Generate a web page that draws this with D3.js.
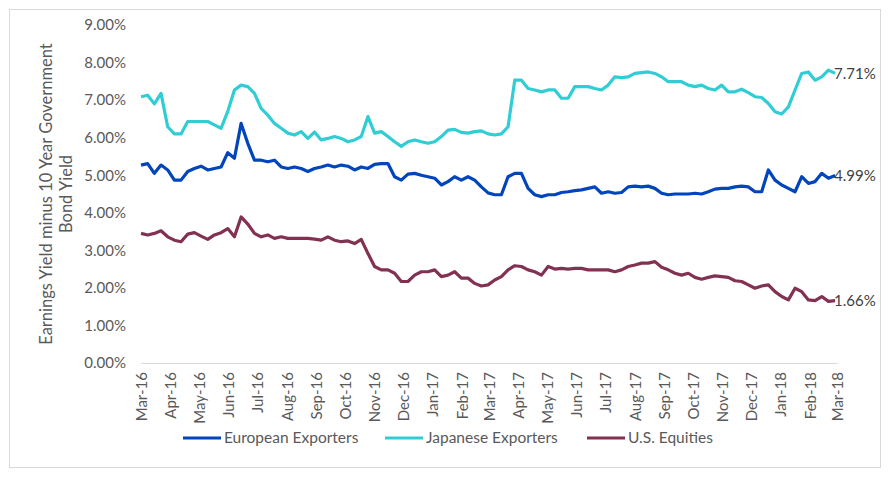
<!DOCTYPE html>
<html>
<head>
<meta charset="utf-8">
<script src="https://cdn.jsdelivr.net/npm/d3@7"></script>
<style>
  body { margin: 0; background: #fff; }
  svg { display: block; font-family: Lato, 'Open Sans', sans-serif; }
</style>
</head>
<body>
<div id="app"></div>
<script>
;(() => {

    // series names / colours
    const series_names = ['European Exporters', 'Japanese Exporters', 'U.S. Equities']
    const series_colors = ['#0045BB', '#31CDD5', '#833152']

    // weekly readings (%), first week starts 1 Mar 2016
    const european = [
        5.27, 5.31, 5.05, 5.27, 5.14, 4.87, 4.87, 5.1, 5.18, 5.24, 5.14, 5.18, 5.22, 5.6, 5.45, 6.38, 5.85, 5.4, 5.4, 5.36, 5.4, 5.22, 5.18, 5.22, 5.18, 5.1, 5.18,
        5.22, 5.27, 5.22, 5.27, 5.24, 5.14, 5.22, 5.18, 5.29, 5.31, 5.31, 4.96, 4.87, 5.03, 5.05, 5.0, 4.96, 4.92, 4.74, 4.83, 4.96, 4.87, 4.96, 4.87, 4.69, 4.53,
        4.48, 4.48, 4.96, 5.05, 5.05, 4.65, 4.48, 4.43, 4.48, 4.48, 4.54, 4.56, 4.59, 4.61, 4.65, 4.69, 4.52, 4.56, 4.52, 4.54, 4.69, 4.71, 4.69, 4.71, 4.65, 4.52,
        4.48, 4.5, 4.5, 4.5, 4.52, 4.5, 4.56, 4.63, 4.65, 4.65, 4.69, 4.71, 4.69, 4.56, 4.56, 5.14, 4.87, 4.74, 4.65, 4.56, 4.96, 4.78, 4.83, 5.05, 4.92, 4.99
    ]
    const japanese = [
        7.09, 7.13, 6.9, 7.18, 6.29, 6.1, 6.1, 6.43, 6.43, 6.43, 6.43, 6.34, 6.25, 6.7, 7.27, 7.4, 7.36, 7.18, 6.78, 6.6, 6.38, 6.25, 6.12, 6.07, 6.16, 5.98, 6.15,
        5.94, 5.98, 6.03, 5.98, 5.89, 5.94, 6.03, 6.56, 6.12, 6.16, 6.03, 5.89, 5.77, 5.89, 5.94, 5.89, 5.85, 5.89, 6.03, 6.2, 6.22, 6.14, 6.12, 6.16, 6.18, 6.1,
        6.07, 6.1, 6.29, 7.53, 7.53, 7.31, 7.27, 7.22, 7.27, 7.27, 7.05, 7.05, 7.36, 7.36, 7.36, 7.31, 7.27, 7.4, 7.62, 7.6, 7.62, 7.71, 7.73, 7.75, 7.71, 7.62,
        7.49, 7.49, 7.49, 7.4, 7.36, 7.4, 7.31, 7.27, 7.4, 7.22, 7.22, 7.29, 7.2, 7.09, 7.07, 6.91, 6.69, 6.63, 6.82, 7.27, 7.71, 7.75, 7.53, 7.62, 7.8, 7.71
    ]
    const us_equities = [
        3.45, 3.41, 3.45, 3.52, 3.36, 3.27, 3.23, 3.43, 3.47, 3.38, 3.29, 3.41, 3.47, 3.58, 3.36, 3.89, 3.7, 3.45, 3.36, 3.41, 3.32, 3.36, 3.32, 3.32, 3.32, 3.32, 3.3,
        3.27, 3.36, 3.27, 3.23, 3.25, 3.18, 3.29, 2.92, 2.57, 2.48, 2.48, 2.39, 2.17, 2.17, 2.34, 2.43, 2.43, 2.48, 2.3, 2.34, 2.43, 2.26, 2.26, 2.12, 2.05, 2.08,
        2.21, 2.3, 2.48, 2.59, 2.57, 2.48, 2.43, 2.34, 2.57, 2.5, 2.52, 2.5, 2.52, 2.52, 2.48, 2.48, 2.48, 2.48, 2.43, 2.48, 2.57, 2.61, 2.66, 2.66, 2.7, 2.55,
        2.48, 2.39, 2.34, 2.39, 2.28, 2.23, 2.28, 2.32, 2.3, 2.28, 2.19, 2.17, 2.08, 1.99, 2.05, 2.08, 1.9, 1.77, 1.68, 1.99, 1.9, 1.68, 1.66, 1.77, 1.64, 1.66
    ]
    const end_labels = ['4.99%', '7.71%', '1.66%']

    const y_ticks = [0, 1, 2, 3, 4, 5, 6, 7, 8, 9]
    const first_week = new Date(2016, 2, 1)
    const weeks = european.map((_, i) => d3.timeDay.offset(first_week, i * 7))
    const month_ticks = d3.timeMonth.range(new Date(2016, 2, 1), new Date(2018, 2, 2))

    const all_series = [european, japanese, us_equities]

    const width = 891
    const height = 480

    const x_scale = d3
        .scaleTime()
        .domain([new Date(2016, 2, 1), new Date(2018, 2, 1)])
        .range([141, 837])

    const y_scale = d3
        .scaleLinear()
        .domain([0, 9])
        .range([363, 25])

    const svg = d3
        .create('svg')
        .attr('viewBox', [0, 0, width, height])
        .attr('width', width)
        .attr('height', height)

    // chart border
    svg.append('rect')
        .attr('x', 9.5).attr('y', 9.5)
        .attr('width', 871).attr('height', 458)
        .attr('fill', '#fff')
        .attr('stroke', '#d9d9d9')

    // y axis labels
    svg.append('g')
        .attr('transform', 'translate(126, 0)')
        .call(d3.axisLeft(y_scale).tickValues(y_ticks).tickSize(0).tickPadding(0)
            .tickFormat(d => d.toFixed(2) + '%'))
        .call(g => g.select('.domain').remove())
        .selectAll('text')
        .attr('fill', '#595959')
        .style('font-size', '15px')
        .style('font-family', 'Lato, sans-serif')

    // x axis
    const x_axis = svg.append('g')
        .attr('transform', `translate(0, ${y_scale(0)})`)
        .call(d3.axisBottom(x_scale).tickValues(month_ticks).tickSize(0).tickPadding(0)
            .tickFormat(d3.timeFormat('%b-%y')))

    x_axis.select('.domain')
        .attr('stroke', '#d9d9d9')
        .attr('stroke-width', 1)

    x_axis.selectAll('text')
        .attr('fill', '#595959')
        .style('font-size', '15px')
        .style('font-family', 'Lato, sans-serif')
        .attr('text-anchor', 'end')
        .attr('transform', 'translate(0, 9) rotate(-90)')
        .attr('x', 0)
        .attr('y', 0)
        .attr('dy', '0.35em')

    // axis title
    const title = svg.append('text')
        .attr('transform', 'translate(0, 194) rotate(-90)')
        .attr('text-anchor', 'middle')
        .attr('fill', '#595959')
        .style('font-size', '16.5px')
    title.append('tspan').attr('x', 0).attr('y', 52).text('Earnings Yield minus 10 Year Government')
    title.append('tspan').attr('x', 0).attr('y', 72).text('Bond Yield')

    const line = d3.line()
        .x((d, i) => x_scale(weeks[i]))
        .y(d => y_scale(d))

    svg.append('g')
        .selectAll('path')
        .data(all_series)
        .join('path')
        .attr('d', d => line(d))
        .attr('fill', 'none')
        .attr('stroke', (d, i) => series_colors[i])
        .attr('stroke-width', 3.2)
        .attr('stroke-linejoin', 'round')

    // last value labels
    svg.append('g')
        .selectAll('text')
        .data(all_series)
        .join('text')
        .attr('x', x_scale(weeks[weeks.length - 1]) - 1)
        .attr('y', d => y_scale(d[d.length - 1]))
        .attr('dy', '0.35em')
        .attr('fill', '#404040')
        .style('font-size', '15px')
        .text((d, i) => end_labels[i])

    // legend
    const legend_x = [183, 385, 587]
    const legend = svg.append('g')
        .selectAll('g')
        .data(series_names)
        .join('g')
        .attr('transform', (d, i) => `translate(${legend_x[i]}, 438)`)

    legend.append('line')
        .attr('x1', 0).attr('x2', 38)
        .attr('stroke', (d, i) => series_colors[i])
        .attr('stroke-width', 3)

    legend.append('text')
        .attr('x', 41)
        .attr('dy', '0.35em')
        .attr('fill', '#595959')
        .style('font-size', '15.5px')
        .text(d => d)

    d3.select('#app').append(() => svg.node())

})()
</script>
</body>
</html>
